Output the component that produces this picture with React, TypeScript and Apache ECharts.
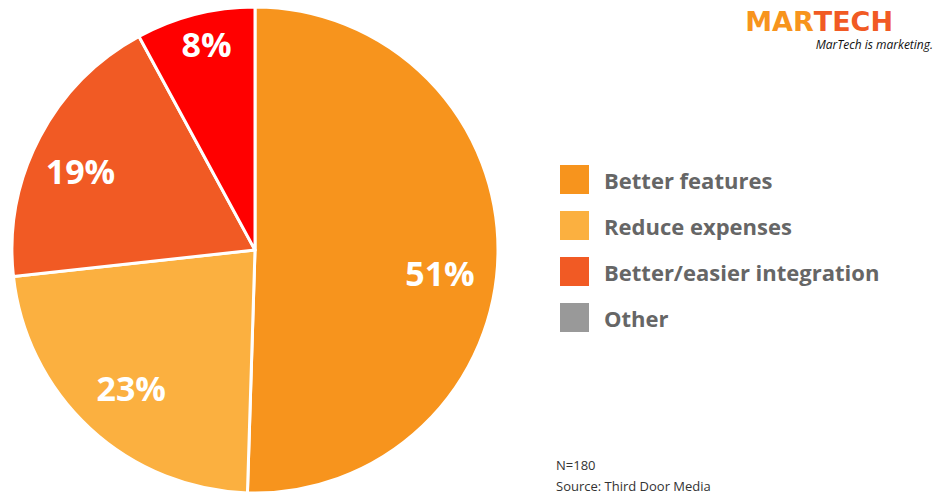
import React, { useEffect, useRef } from "react";
import * as echarts from "echarts";

const categories = ["Better features", "Reduce expenses", "Better/easier integration", "Other"];
const values = [51, 23, 19, 8];
const sliceColors = ["#F7941D", "#FBB040", "#F15A24", "#FF0000"];
const legendColors = ["#F7941D", "#FBB040", "#F15A24", "#999999"];
const labelNudge = [
  [-12, 20],
  [10, -7],
  [0, 12],
  [0, -15],
];
const notes = ["N=180", "Source: Third Door Media"];

export default function App() {
  const ref = useRef<HTMLDivElement>(null);
  useEffect(() => {
    document.body.style.margin = "0";
    const chart = echarts.init(ref.current!, undefined, { renderer: "svg" });
    const data = categories.map((name, i) => ({
      name,
      value: values[i],
      itemStyle: { color: sliceColors[i] },
    }));
    chart.setOption({
      animation: false,
      backgroundColor: "#ffffff",
      legend: {
        orient: "vertical",
        left: 558,
        top: 163,
        padding: 0,
        icon: "rect",
        itemWidth: 31,
        itemHeight: 31,
        itemGap: 13,
        selectedMode: false,
        textStyle: {
          fontFamily: "Open Sans",
          fontWeight: "bold",
          fontSize: 22,
          color: "#666666",
          padding: [0, 0, 0, 9],
        },
        data: categories.map((name, i) => ({ name, itemStyle: { color: legendColors[i] } })),
      },
      series: [
        {
          type: "pie",
          center: [255, 250],
          radius: [0, 243],
          startAngle: 90,
          clockwise: true,
          silent: true,
          label: { show: false },
          labelLine: { show: false },
          itemStyle: { borderColor: "#ffffff", borderWidth: 3 },
          data,
        },
        {
          type: "pie",
          center: [255, 250],
          radius: [145, 243],
          startAngle: 90,
          clockwise: true,
          silent: true,
          legendHoverLink: false,
          itemStyle: { color: "rgba(0,0,0,0)", borderWidth: 0 },
          label: {
            show: true,
            position: "inside",
            formatter: "{c}%",
            color: "#ffffff",
            fontFamily: "Open Sans",
            fontWeight: "bold",
            fontSize: 34,
          },
          labelLayout: (p: any) => ({ dx: labelNudge[p.dataIndex][0], dy: labelNudge[p.dataIndex][1] }),
          labelLine: { show: false },
          data: categories.map((name, i) => ({ name: name + " ", value: values[i] })),
        },
      ],
      graphic: [
        {
          type: "text",
          right: 40,
          top: 8,
          style: {
            text: "{a|MAR}{b|TECH}",
            rich: {
              a: { fill: "#F7941D", fontFamily: "DejaVu Sans", fontWeight: "bold", fontSize: 27, lineHeight: 27 },
              b: { fill: "#F15A24", fontFamily: "DejaVu Sans", fontWeight: "bold", fontSize: 27, lineHeight: 27 },
            },
          },
        },
        {
          type: "text",
          right: 0,
          top: 38,
          style: {
            text: "MarTech is marketing.",
            fill: "#111111",
            fontFamily: "Open Sans",
            fontStyle: "italic",
            fontSize: 12,
          },
        },
        {
          type: "text",
          left: 556,
          top: 458,
          style: { text: notes[0], fill: "#333333", fontFamily: "Open Sans", fontSize: 13 },
        },
        {
          type: "text",
          left: 556,
          top: 479,
          style: { text: notes[1], fill: "#333333", fontFamily: "Open Sans", fontSize: 13 },
        },
      ],
    });
    return () => chart.dispose();
  }, []);
  return <div ref={ref} style={{ width: 933, height: 493 }} />;
}
